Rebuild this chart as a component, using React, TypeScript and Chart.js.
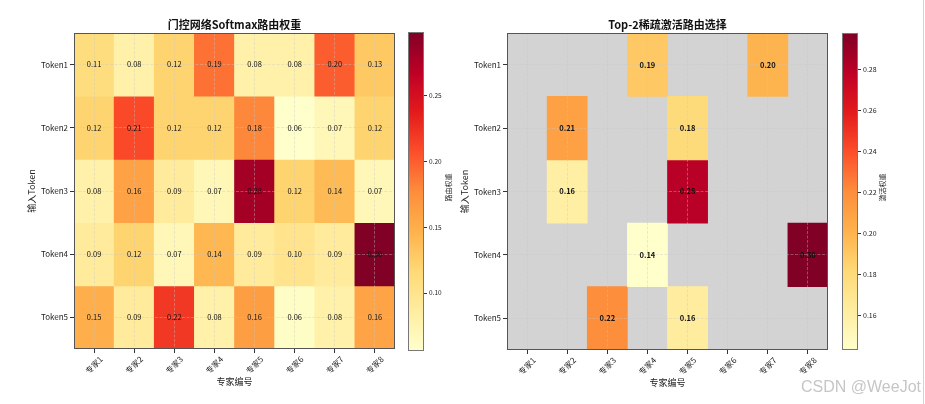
import React, { useEffect, useRef } from "react";
import { Chart, registerables } from "chart.js";

Chart.register(...registerables);

// ---------------- data ----------------
const tokens = ["Token1", "Token2", "Token3", "Token4", "Token5"];
const experts = ["专家1", "专家2", "专家3", "专家4", "专家5", "专家6", "专家7", "专家8"];

const token1Weights = [0.11, 0.08, 0.12, 0.19, 0.08, 0.08, 0.2, 0.13];
const token2Weights = [0.12, 0.21, 0.12, 0.12, 0.18, 0.056, 0.07, 0.12];
const token3Weights = [0.08, 0.16, 0.09, 0.07, 0.28, 0.12, 0.14, 0.07];
const token4Weights = [0.09, 0.12, 0.07, 0.143, 0.09, 0.1, 0.09, 0.298];
const token5Weights = [0.15, 0.09, 0.22, 0.08, 0.163, 0.06, 0.08, 0.158];
const softmaxWeights = [token1Weights, token2Weights, token3Weights, token4Weights, token5Weights];

// indices of the two selected experts per token (Top-2)
const top2Selected = [
  [3, 6],
  [1, 4],
  [1, 4],
  [3, 7],
  [2, 4],
];

const leftCbarTicks = [0.1, 0.15, 0.2, 0.25];
const rightCbarTicks = [0.16, 0.18, 0.2, 0.22, 0.24, 0.26, 0.28];

const leftTitle = "门控网络Softmax路由权重";
const rightTitle = "Top-2稀疏激活路由选择";
const xTitle = "专家编号";
const yTitle = "输入Token";
const leftCbarLabel = "路由权重";
const rightCbarLabel = "激活权重";

// ---------------- styling ----------------
const FONT = "'Noto Sans CJK SC', 'DejaVu Sans', sans-serif";
const YLORRD = ["#ffffcc", "#ffeda0", "#fed976", "#feb24c", "#fd8d3c", "#fc4e2a", "#e31a1c", "#bd0026", "#800026"];
const GRID_COLOR = "rgba(200,200,200,0.42)";
const FRAME = "#555";
const TEXT = "#222";

function hexRgb(h: string) {
  const n = parseInt(h.slice(1), 16);
  return [(n >> 16) & 255, (n >> 8) & 255, n & 255];
}
function cmap(t: number) {
  const x = Math.max(0, Math.min(1, t)) * 8;
  const i = Math.min(7, Math.floor(x));
  const f = x - i;
  const a = hexRgb(YLORRD[i]);
  const b = hexRgb(YLORRD[i + 1]);
  const c = a.map((v, k) => Math.round(v + (b[k] - v) * f));
  return `rgb(${c[0]},${c[1]},${c[2]})`;
}

const allValues = softmaxWeights.flat();
const leftMin = Math.min(...allValues);
const leftMax = Math.max(...allValues);
const selectedValues = top2Selected.flatMap((sel, r) => sel.map((c) => softmaxWeights[r][c]));
const rightMin = Math.min(...selectedValues);
const rightMax = Math.max(...selectedValues);

type HeatOpts = {
  show: (r: number, c: number) => boolean;
  vmin: number;
  vmax: number;
  title: string;
  boldCells: boolean;
  background: string | null;
  yAxisWidth: number;
  xAxisHeight: number;
  padRight: number;
};

function heatmapConfig(p: HeatOpts): any {
  const datasets = tokens.map((tok, r) => ({
    label: tok,
    data: experts.map((_, c) => (p.show(r, c) ? [r, r + 1] : null)),
    backgroundColor: experts.map((_, c) => cmap((softmaxWeights[r][c] - p.vmin) / (p.vmax - p.vmin))),
    borderWidth: 0,
    barPercentage: 1,
    categoryPercentage: 1,
    grouped: false,
  }));

  const plugin = {
    id: "heatDecor",
    beforeDatasetsDraw(chart: any) {
      if (!p.background) return;
      const { ctx, chartArea: a } = chart;
      ctx.save();
      ctx.fillStyle = p.background;
      ctx.fillRect(a.left, a.top, a.right - a.left, a.bottom - a.top);
      ctx.restore();
    },
    afterDraw(chart: any) {
      const { ctx, chartArea: a, scales } = chart;
      const xs = scales.x;
      const ys = scales.y;
      ctx.save();
      // cell values
      ctx.fillStyle = "#111";
      ctx.textAlign = "center";
      ctx.textBaseline = "middle";
      ctx.font = `${p.boldCells ? "bold " : ""}7.5px ${FONT}`;
      tokens.forEach((_, r) => {
        experts.forEach((__, c) => {
          if (!p.show(r, c)) return;
          const x = xs.getPixelForTick(c);
          const y = ys.getPixelForValue(r + 0.5);
          ctx.fillText(softmaxWeights[r][c].toFixed(2), x, y);
        });
      });
      // frame
      ctx.strokeStyle = FRAME;
      ctx.lineWidth = 1;
      ctx.strokeRect(Math.round(a.left) + 0.5, Math.round(a.top) + 0.5, Math.round(a.right - a.left) - 1, Math.round(a.bottom - a.top) - 1);
      // x tick labels, rotated 45 deg, centred on the tick
      ctx.fillStyle = TEXT;
      ctx.font = `8px ${FONT}`;
      experts.forEach((lab, c) => {
        const x = xs.getPixelForTick(c);
        ctx.save();
        ctx.translate(x, a.bottom + 16);
        ctx.rotate(-Math.PI / 4);
        ctx.textAlign = "center";
        ctx.textBaseline = "middle";
        ctx.fillText(lab, 0, 0);
        ctx.restore();
      });
      // x title
      ctx.font = `9px ${FONT}`;
      ctx.textAlign = "center";
      ctx.textBaseline = "middle";
      ctx.fillText(xTitle, (a.left + a.right) / 2, a.bottom + 33);
      // y title
      ctx.save();
      ctx.translate(a.left - 42, (a.top + a.bottom) / 2);
      ctx.rotate(-Math.PI / 2);
      ctx.fillText(yTitle, 0, 0);
      ctx.restore();
      // title
      ctx.font = `bold 11px ${FONT}`;
      ctx.fillStyle = "#111";
      ctx.fillText(p.title, (a.left + a.right) / 2, a.top - 8);
      ctx.restore();
    },
  };

  const grid = {
    color: GRID_COLOR,
    lineWidth: 0.9,
    tickColor: "#333",
    tickLength: 4,
    tickWidth: 1,
    tickBorderDash: [],
    offset: false,
    z: 1,
  };

  return {
    type: "bar",
    data: { labels: experts, datasets },
    options: {
      responsive: false,
      animation: false,
      events: [],
      layout: { padding: { left: 0, right: p.padRight, top: 33, bottom: 0 } },
      plugins: { legend: { display: false }, tooltip: { enabled: false }, title: { display: false } },
      scales: {
        x: {
          type: "category",
          offset: true,
          grid,
          border: { display: false, dash: [3, 1.5] },
          ticks: { display: false },
          afterFit: (ax: any) => {
            ax.height = p.xAxisHeight;
          },
        },
        y: {
          type: "linear",
          min: 0,
          max: tokens.length,
          reverse: true,
          grid,
          border: { display: false, dash: [3, 1.5] },
          afterBuildTicks: (ax: any) => {
            ax.ticks = tokens.map((_, i) => ({ value: i + 0.5 }));
          },
          afterFit: (ax: any) => {
            ax.width = p.yAxisWidth;
          },
          ticks: {
            callback: (v: any) => tokens[Math.floor(Number(v))],
            font: { family: FONT, size: 8 },
            color: TEXT,
            padding: 2,
          },
        },
      },
    },
    plugins: [plugin],
  };
}

type CbarOpts = {
  vmin: number;
  vmax: number;
  ticks: number[];
  label: string;
  tickSize: number;
  yAxisWidth: number;
  padTop: number;
  padBottom: number;
};

function colorbarConfig(p: CbarOpts): any {
  const plugin = {
    id: "cbarDecor",
    afterDraw(chart: any) {
      const { ctx, chartArea: a } = chart;
      ctx.save();
      ctx.strokeStyle = "#777";
      ctx.lineWidth = 1;
      ctx.strokeRect(Math.round(a.left) + 0.5, Math.round(a.top) + 0.5, Math.round(a.right - a.left) - 1, Math.round(a.bottom - a.top) - 1);
      ctx.fillStyle = TEXT;
      ctx.font = `7px ${FONT}`;
      ctx.textAlign = "center";
      ctx.textBaseline = "middle";
      ctx.translate(a.right + 24, (a.top + a.bottom) / 2 - 4);
      ctx.rotate(-Math.PI / 2);
      ctx.fillText(p.label, 0, 0);
      ctx.restore();
    },
  };
  return {
    type: "bar",
    data: {
      labels: [""],
      datasets: [
        {
          data: [[p.vmin, p.vmax]],
          backgroundColor: (c: any) => {
            const a = c.chart.chartArea;
            if (!a) return YLORRD[4];
            const g = c.chart.ctx.createLinearGradient(0, a.bottom, 0, a.top);
            YLORRD.forEach((col, i) => g.addColorStop(i / 8, col));
            return g;
          },
          borderWidth: 0,
          barPercentage: 1,
          categoryPercentage: 1,
          inflateAmount: 0,
        },
      ],
    },
    options: {
      responsive: false,
      animation: false,
      events: [],
      layout: { padding: { left: 8, right: 0, top: p.padTop, bottom: p.padBottom } },
      plugins: { legend: { display: false }, tooltip: { enabled: false } },
      scales: {
        x: { display: false },
        y: {
          type: "linear",
          position: "right",
          min: p.vmin,
          max: p.vmax,
          afterBuildTicks: (ax: any) => {
            ax.ticks = p.ticks.map((v) => ({ value: v }));
          },
          afterFit: (ax: any) => {
            ax.width = p.yAxisWidth;
          },
          ticks: {
            callback: (v: any) => Number(v).toFixed(2),
            font: { family: FONT, size: p.tickSize },
            color: TEXT,
            padding: 2,
          },
          grid: { drawOnChartArea: false, tickLength: 3, tickColor: "#333", tickWidth: 1 },
          border: { display: false },
        },
      },
    },
    plugins: [plugin],
  };
}

export default function App() {
  const leftRef = useRef<HTMLCanvasElement>(null);
  const leftCbarRef = useRef<HTMLCanvasElement>(null);
  const rightRef = useRef<HTMLCanvasElement>(null);
  const rightCbarRef = useRef<HTMLCanvasElement>(null);

  useEffect(() => {
    const charts: Chart[] = [];
    charts.push(
      new Chart(
        leftRef.current!,
        heatmapConfig({
          show: () => true,
          vmin: leftMin,
          vmax: leftMax,
          title: leftTitle,
          boldCells: false,
          background: null,
          yAxisWidth: 74,
          xAxisHeight: 55,
          padRight: 5,
        })
      )
    );
    charts.push(
      new Chart(
        leftCbarRef.current!,
        colorbarConfig({
          vmin: leftMin,
          vmax: leftMax,
          ticks: leftCbarTicks,
          label: leftCbarLabel,
          tickSize: 6.5,
          yAxisWidth: 36,
          padTop: 32,
          padBottom: 53,
        })
      )
    );
    charts.push(
      new Chart(
        rightRef.current!,
        heatmapConfig({
          show: (r, c) => top2Selected[r].includes(c),
          vmin: rightMin,
          vmax: rightMax,
          title: rightTitle,
          boldCells: true,
          background: "#d3d3d3",
          yAxisWidth: 67,
          xAxisHeight: 54,
          padRight: 7,
        })
      )
    );
    charts.push(
      new Chart(
        rightCbarRef.current!,
        colorbarConfig({
          vmin: rightMin,
          vmax: rightMax,
          ticks: rightCbarTicks,
          label: rightCbarLabel,
          tickSize: 7,
          yAxisWidth: 67,
          padTop: 33,
          padBottom: 54,
        })
      )
    );
    return () => charts.forEach((c) => c.destroy());
  }, []);

  const abs = (left: number, w: number): React.CSSProperties => ({
    position: "absolute",
    left,
    top: 0,
    width: w,
    height: 404,
  });

  return (
    <div style={{ position: "absolute", left: 0, top: 0, width: 925, height: 404, background: "#fff", overflow: "hidden" }}>
      <canvas ref={leftRef} width={400} height={404} style={abs(0, 400)} />
      <canvas ref={leftCbarRef} width={60} height={404} style={abs(400, 60)} />
      <canvas ref={rightRef} width={395} height={404} style={abs(440, 395)} />
      <canvas ref={rightCbarRef} width={91} height={404} style={abs(834, 91)} />
      <div
        style={{
          position: "absolute",
          left: 801,
          top: 378,
          font: `16px 'Liberation Sans', 'DejaVu Sans', sans-serif`,
          color: "#c6c6c6",
          whiteSpace: "nowrap",
        }}
      >
        CSDN @WeeJot
      </div>
      <div style={{ position: "absolute", left: 923, top: 0, width: 1, height: 404, background: "#d4d4d4" }} />
    </div>
  );
}
